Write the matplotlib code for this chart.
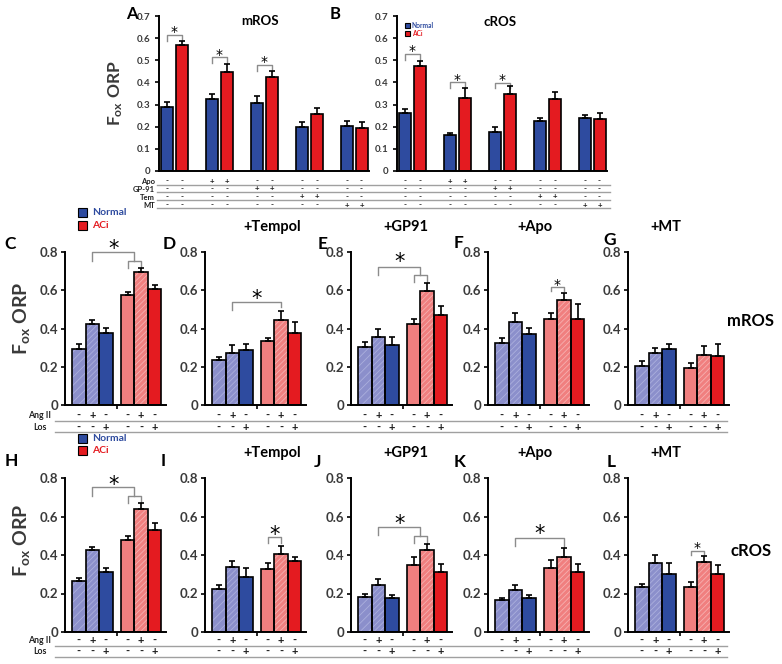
import numpy as np
import matplotlib
matplotlib.use("Agg")
import matplotlib.pyplot as plt
from matplotlib.lines import Line2D
from matplotlib.patches import Rectangle
from matplotlib.transforms import blended_transform_factory

plt.rcParams['font.family'] = ['Lato', 'DejaVu Sans']
plt.rcParams['font.weight'] = 'bold'
plt.rcParams['axes.labelweight'] = 'bold'
plt.rcParams['mathtext.fontset'] = 'custom'
plt.rcParams['mathtext.rm'] = 'Lato:bold'
plt.rcParams['mathtext.it'] = 'Lato:bold'
plt.rcParams['mathtext.bf'] = 'Lato:bold'
plt.rcParams['hatch.linewidth'] = 0.6

# ---- panels A / B : Normal vs ACi under five treatment groups
ab_rows = ['Apo', 'GP-91', 'Tem', 'MT']
ab_treat = [None, 'Apo', 'GP-91', 'Tem', 'MT']
mros_normal = [0.290, 0.325, 0.307, 0.200, 0.203]
mros_normal_err = [0.020, 0.023, 0.032, 0.023, 0.023]
mros_aci = [0.569, 0.449, 0.426, 0.258, 0.194]
mros_aci_err = [0.020, 0.034, 0.027, 0.025, 0.026]
cros_normal = [0.264, 0.161, 0.178, 0.224, 0.238]
cros_normal_err = [0.015, 0.012, 0.019, 0.017, 0.015]
cros_aci = [0.476, 0.331, 0.349, 0.327, 0.233]
cros_aci_err = [0.022, 0.042, 0.037, 0.028, 0.027]

# ---- panels C-L : Normal (ctrl, Ang II, Los), ACi (ctrl, Ang II, Los)
pretreat = ['', '+Tempol', '+GP91', '+Apo', '+MT']
angii_signs = ['-', '+', '-', '-', '+', '-']
los_signs = ['-', '-', '+', '-', '-', '+']
mros_means = [
    [0.293, 0.423, 0.374, 0.575, 0.693, 0.605],  # C
    [0.236, 0.274, 0.288, 0.335, 0.442, 0.376],  # D
    [0.305, 0.357, 0.314, 0.424, 0.598, 0.470],  # E
    [0.325, 0.435, 0.369, 0.452, 0.548, 0.452],  # F
    [0.204, 0.274, 0.291, 0.196, 0.260, 0.255],  # G
]
mros_errs = [
    [0.025, 0.024, 0.028, 0.018, 0.021, 0.023],
    [0.014, 0.041, 0.032, 0.014, 0.052, 0.057],
    [0.026, 0.043, 0.040, 0.024, 0.038, 0.048],
    [0.023, 0.048, 0.036, 0.031, 0.040, 0.078],
    [0.025, 0.026, 0.029, 0.026, 0.046, 0.062],
]
cros_means = [
    [0.265, 0.424, 0.313, 0.479, 0.638, 0.532],  # H
    [0.225, 0.337, 0.285, 0.328, 0.406, 0.368],  # I
    [0.180, 0.246, 0.177, 0.350, 0.428, 0.310],  # J
    [0.165, 0.220, 0.177, 0.332, 0.390, 0.310],  # K
    [0.236, 0.358, 0.300, 0.236, 0.363, 0.300],  # L
]
cros_errs = [
    [0.014, 0.020, 0.020, 0.022, 0.030, 0.034],
    [0.017, 0.031, 0.047, 0.030, 0.043, 0.024],
    [0.019, 0.029, 0.017, 0.040, 0.031, 0.043],
    [0.010, 0.026, 0.017, 0.044, 0.046, 0.043],
    [0.014, 0.040, 0.058, 0.026, 0.034, 0.046],
]

BLUE = '#2E4B9F'
RED = '#E41B20'
LAV = '#8B8FCB'
SALMON = '#F07F7F'
GRAY = '#8C8C8C'
TICKC = '#3A3A3A'

W, H = 782, 664
fig = plt.figure(figsize=(W / 100, H / 100), dpi=100)


def px_axes(left, top, right, bottom):
    return fig.add_axes([left / W, 1 - bottom / H, (right - left) / W, (bottom - top) / H])


def ftext(x, y, s, **kw):
    kw.setdefault('ha', 'center')
    kw.setdefault('va', 'center')
    fig.text(x / W, 1 - y / H, s, **kw)


def hline(x0, x1, y, color='#A0A0A0', lw=1.0):
    fig.add_artist(Line2D([x0 / W, x1 / W], [1 - y / H, 1 - y / H], color=color, lw=lw))


def legend_box(x, y, size, color):
    fig.add_artist(Rectangle((x / W, 1 - (y + size) / H), size / W, size / H,
                             transform=fig.transFigure, fc=color, ec='k', lw=0.8))


def style(ax, ymax, step, labelsize, pad):
    ticks = np.arange(0, ymax + 1e-9, step)
    ax.set_ylim(0, ymax)
    ax.set_yticks(ticks)
    ax.set_yticklabels(['0'] + ['%.1f' % t for t in ticks[1:]])
    for s in ('top', 'right'):
        ax.spines[s].set_visible(False)
    for s in ('left', 'bottom'):
        ax.spines[s].set_linewidth(1.4)
    ax.tick_params(axis='y', length=3, width=1.2, labelsize=labelsize, labelcolor=TICKC, pad=pad)
    ax.patch.set_alpha(0)


def star(ax, x, y, fs):
    ax.annotate('*', (x, y), xytext=(0, -fs * 0.22), textcoords='offset points',
                ha='center', va='center', fontsize=fs, fontweight='normal',
                family='DejaVu Sans', annotation_clip=False)


def bracket(ax, x1, x2, y, leg1, leg2):
    ax.plot([x1, x1, x2, x2], [leg1, y, y, leg2], color=GRAY, lw=1.0, clip_on=False)


# ---------------- panels A and B ----------------
ab_x = np.arange(5) * 3.0
ab_rows_y = [181, 189, 197, 205]
ab_lines_y = [184.5, 192.5, 200, 207.5]


def ab_panel(left, normal, nerr, aci, aerr, stars):
    ax = px_axes(left, 16, left + 210, 171)
    ax.bar(ab_x, normal, 0.8, color=BLUE, edgecolor='k', lw=1.2, zorder=2)
    ax.bar(ab_x + 1, aci, 0.8, color=RED, edgecolor='k', lw=1.2, zorder=2)
    ax.errorbar(ab_x, normal, yerr=[np.zeros(5), nerr], fmt='none', ecolor='k',
                elinewidth=1.2, capsize=2.2, capthick=1.2, zorder=3)
    ax.errorbar(ab_x + 1, aci, yerr=[np.zeros(5), aerr], fmt='none', ecolor='k',
                elinewidth=1.2, capsize=2.2, capthick=1.2, zorder=3)
    ax.set_xlim(-0.53, 13.5)
    ax.set_xticks([])
    style(ax, 0.7, 0.1, 7, 3)
    for g, top, leg, sy in stars:
        bracket(ax, ab_x[g], ab_x[g] + 1, top, leg, leg)
        star(ax, ab_x[g] + 0.5, sy, 10)
    tr = blended_transform_factory(ax.transData, fig.transFigure)
    for r, row in enumerate(ab_rows):
        for g in range(5):
            s = '+' if ab_treat[g] == row else '-'
            for k in range(2):
                ax.text(ab_x[g] + k, 1 - ab_rows_y[r] / H, s, transform=tr, ha='center',
                        va='center', fontsize=5.8, color='#202020')
    return ax


axA = ab_panel(159, mros_normal, mros_normal_err, mros_aci, mros_aci_err,
               [(0, 0.614, 0.589, 0.64), (1, 0.514, 0.486, 0.539), (2, 0.479, 0.453, 0.504)])
axB = ab_panel(397, cros_normal, cros_normal_err, cros_aci, cros_aci_err,
               [(0, 0.529, 0.50, 0.554), (1, 0.40, 0.377, 0.426), (2, 0.396, 0.373, 0.423)])

for r, row in enumerate(ab_rows):
    ftext(155, ab_rows_y[r], row, ha='right', fontsize=5.5, color='#202020')
    hline(157, 610, ab_lines_y[r])

axA.set_ylabel(r'F$_{ox}$ ORP', fontsize=12.5, color=TICKC)
axA.yaxis.set_label_coords((125 - 159) / 210, 0.5)
ftext(132, 14, 'A', fontsize=12)
ftext(335, 14, 'B', fontsize=12)
ftext(260, 21, 'mROS', fontsize=9.5)
ftext(500, 22, 'cROS', fontsize=9.5)
legend_box(405, 22.5, 5, BLUE)
legend_box(405, 31, 5, RED)
ftext(412, 25, 'Normal', ha='left', fontsize=4.8, color=BLUE)
ftext(412, 33.5, 'ACi', ha='left', fontsize=4.8, color=RED)

# ---------------- panels C-L ----------------
pos = np.array([0, 1, 2, 3.6, 4.6, 5.6])
bar_fc = [LAV, LAV, BLUE, SALMON, SALMON, RED]
bar_hatch = ['////', '//////', None, None, '//////', None]
bar_hc = ['#ABAFDD', '#ABAFDD', BLUE, SALMON, '#F6B0B0', RED]


def small_panel(left, top, bottom, means, errs, brk):
    ax = px_axes(left, top, left + 101, bottom)
    for k in range(6):
        ax.bar(pos[k], means[k], 1.0, color=bar_fc[k], hatch=bar_hatch[k],
               edgecolor=bar_hc[k], lw=0, zorder=2)
        ax.bar(pos[k], means[k], 1.0, fill=False, edgecolor='k', lw=1.2, zorder=3)
    ax.errorbar(pos, means, yerr=[np.zeros(6), errs], fmt='none', ecolor='k',
                elinewidth=1.2, capsize=2.2, capthick=1.2, zorder=4)
    ax.set_xlim(-1.03, 6.45)
    ax.set_xticks([2.8])
    ax.set_xticklabels([])
    ax.tick_params(axis='x', length=3, width=1.2)
    style(ax, 0.8, 0.2, 9.5, 2)
    if brk is not None:
        if brk[0] == 'nested':
            _, i, j1, j2, ybig, yleg, ysmall, ysleg, sy, fs = brk
            xm = (pos[j1] + pos[j2]) / 2
            ax.plot([pos[i], pos[i], xm, xm], [yleg, ybig, ybig, ysmall], color=GRAY,
                    lw=1.0, clip_on=False)
            bracket(ax, pos[j1], pos[j2], ysmall, ysleg, ysleg)
            star(ax, (pos[i] + xm) / 2, sy, fs)
        else:
            _, i, j, y, l1, l2, sy, fs = brk
            bracket(ax, pos[i], pos[j], y, l1, l2)
            star(ax, (pos[i] + pos[j]) / 2, sy, fs)
    return ax


row_lefts = [65, 205, 351, 488, 628]
mros_brk = [
    ('nested', 1, 3, 4, 0.80, 0.755, 0.755, 0.716, 0.84, 15),
    ('span', 1, 4, 0.536, 0.498, 0.51, 0.576, 15),
    ('nested', 1, 3, 4, 0.723, 0.68, 0.68, 0.645, 0.77, 15),
    ('span', 3, 4, 0.617, 0.595, 0.595, 0.643, 10),
    None,
]
cros_brk = [
    ('nested', 1, 3, 4, 0.754, 0.706, 0.709, 0.672, 0.79, 15),
    ('span', 3, 4, 0.492, 0.461, 0.461, 0.527, 15),
    ('nested', 1, 3, 4, 0.544, 0.506, 0.497, 0.462, 0.584, 15),
    ('span', 1, 4, 0.488, 0.445, 0.44, 0.532, 15),
    ('span', 3, 4, 0.423, 0.402, 0.402, 0.45, 10),
]

rows = [
    dict(top=252, bottom=405, means=mros_means, errs=mros_errs, brk=mros_brk,
         letters='CDEFG', letter_xy=[(10, 244), (169, 244), (323, 244), (459, 243), (610, 240)],
         title_y=227, sign_y=(415, 427.5), lines=(421, 432), leg_y=(208, 221),
         side='mROS', side_y=321, ylab_y=318),
    dict(top=478, bottom=632, means=cros_means, errs=cros_errs, brk=cros_brk,
         letters='HIJKL', letter_xy=[(11, 461), (163, 461), (318, 462), (460, 462), (611, 462)],
         title_y=453, sign_y=(640.5, 651.5), lines=(645.5, 656.5), leg_y=(434, 446),
         side='cROS', side_y=551, ylab_y=540),
]
title_x = [None, 272, 406, 535, 666]

for row in rows:
    for p in range(5):
        ax = small_panel(row_lefts[p], row['top'], row['bottom'], row['means'][p],
                         row['errs'][p], row['brk'][p])
        tr = blended_transform_factory(ax.transData, fig.transFigure)
        for k in range(6):
            ax.text(pos[k], 1 - row['sign_y'][0] / H, angii_signs[k], transform=tr,
                    ha='center', va='center', fontsize=8, color='#202020')
            ax.text(pos[k], 1 - row['sign_y'][1] / H, los_signs[k], transform=tr,
                    ha='center', va='center', fontsize=8, color='#202020')
        lx, ly = row['letter_xy'][p]
        ftext(lx, ly, row['letters'][p], fontsize=12.5)
        if p > 0:
            ftext(title_x[p], row['title_y'], pretreat[p], fontsize=10.5)
        if p == 0:
            ax.set_ylabel(r'F$_{ox}$ ORP', fontsize=14, color=TICKC)
            ax.yaxis.set_label_coords((32 - 65) / 101, (row['bottom'] - row['ylab_y']) /
                                      (row['bottom'] - row['top']))
    ftext(51, row['sign_y'][0], 'Ang II', ha='right', fontsize=6.3, color='#202020')
    ftext(47, row['sign_y'][1], 'Los', ha='right', fontsize=6.3, color='#202020')
    hline(55, 727, row['lines'][0])
    hline(55, 727, row['lines'][1])
    legend_box(78, row['leg_y'][0], 9, BLUE)
    legend_box(78, row['leg_y'][1], 9, RED)
    ftext(92, row['leg_y'][0] + 4.5, 'Normal', ha='left', fontsize=7.5, color=BLUE)
    ftext(92, row['leg_y'][1] + 4.5, 'ACi', ha='left', fontsize=7.5, color=RED)
    ftext(751, row['side_y'], row['side'], fontsize=12)

fig.savefig('out.png', dpi=100)
